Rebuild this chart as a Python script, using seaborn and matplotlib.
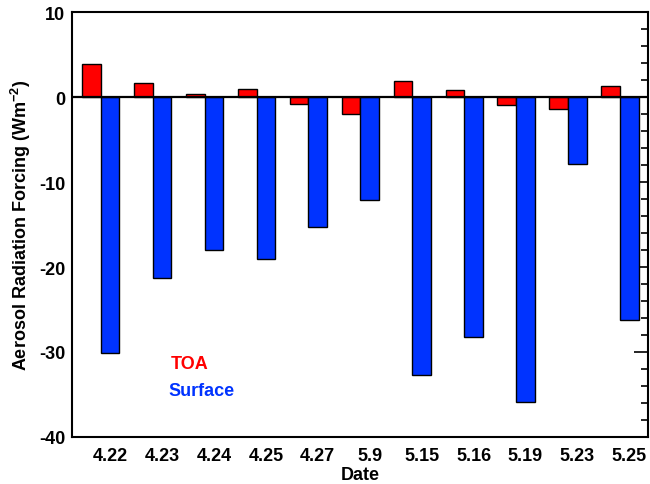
import pandas as pd
import numpy as np
import matplotlib
matplotlib.use("Agg")
import matplotlib.pyplot as plt
import seaborn as sns
from matplotlib.ticker import MultipleLocator, FixedLocator

# data
dates = ["4.22", "4.23", "4.24", "4.25", "4.27", "5.9", "5.15", "5.16", "5.19", "5.23", "5.25"]
toa = [3.9, 1.6, 0.4, 1.0, -0.8, -2.0, 1.9, 0.8, -0.9, -1.45, 1.3]
surface = [-30.1, -21.3, -18.0, -19.1, -15.3, -12.15, -32.7, -28.2, -35.9, -7.9, -26.2]
series = ["TOA", "Surface"]
colors = ["#ff0000", "#0033ff"]

sns.set_style("white")
plt.rcParams['font.family'] = ['Liberation Sans', 'DejaVu Sans']
plt.rcParams['font.weight'] = 'bold'
plt.rcParams['axes.unicode_minus'] = False
plt.rcParams['mathtext.fontset'] = 'custom'
plt.rcParams['mathtext.rm'] = 'Liberation Sans:bold'
plt.rcParams['mathtext.bf'] = 'Liberation Sans:bold'
plt.rcParams['text.color'] = 'black'
plt.rcParams['axes.labelcolor'] = 'black'
plt.rcParams['xtick.color'] = 'black'
plt.rcParams['ytick.color'] = 'black'

df = pd.DataFrame({
    "Date": dates * 2,
    "value": toa + surface,
    "series": [series[0]] * len(dates) + [series[1]] * len(dates),
})

fig = plt.figure(figsize=(6.5, 4.85), dpi=100)
ax = fig.add_axes([0.111, 0.097, 0.886, 0.876])
sns.barplot(data=df, x="Date", y="value", hue="series", order=dates,
            hue_order=series, palette=colors, width=0.72, dodge=True,
            edgecolor="black", linewidth=1.0, saturation=1, legend=False, ax=ax)

ax.axhline(0, color="black", lw=1.6, zorder=5)
ax.set_ylim(-40, 10)
ax.set_xlim(-0.55, len(dates) - 1 + 0.54)

# y ticks
ax.yaxis.set_major_locator(MultipleLocator(10))
ax.yaxis.set_minor_locator(MultipleLocator(2))
ax.tick_params(axis="y", which="major", direction="in", length=10, width=1.2,
               right=True, labelsize=13, pad=5)
ax.tick_params(axis="y", which="minor", direction="in", length=5, width=1.2, right=True)

# x ticks: label under Surface bar, minor tick under TOA bar
pos = np.arange(len(dates))
ax.xaxis.set_major_locator(FixedLocator(pos + 0.18))
ax.set_xticklabels(dates)
ax.xaxis.set_minor_locator(FixedLocator(pos - 0.18))
ax.tick_params(axis="x", which="both", direction="in", length=8, width=1.2,
               labelsize=13, pad=7)

for s in ax.spines.values():
    s.set_linewidth(1.5)
    s.set_color("black")

ax.set_xlabel("Date", fontsize=13, fontweight="bold", labelpad=2)
ax.set_ylabel("Aerosol Radiation Forcing (Wm$^{-2}$)", fontsize=13,
              fontweight="bold", labelpad=4)

ax.text(1.35, -31.4, "TOA", color=colors[0], fontsize=13, fontweight="bold",
        ha="left", va="center")
ax.text(1.30, -34.5, "Surface", color=colors[1], fontsize=13, fontweight="bold",
        ha="left", va="center")

fig.savefig("out.png", dpi=100)
